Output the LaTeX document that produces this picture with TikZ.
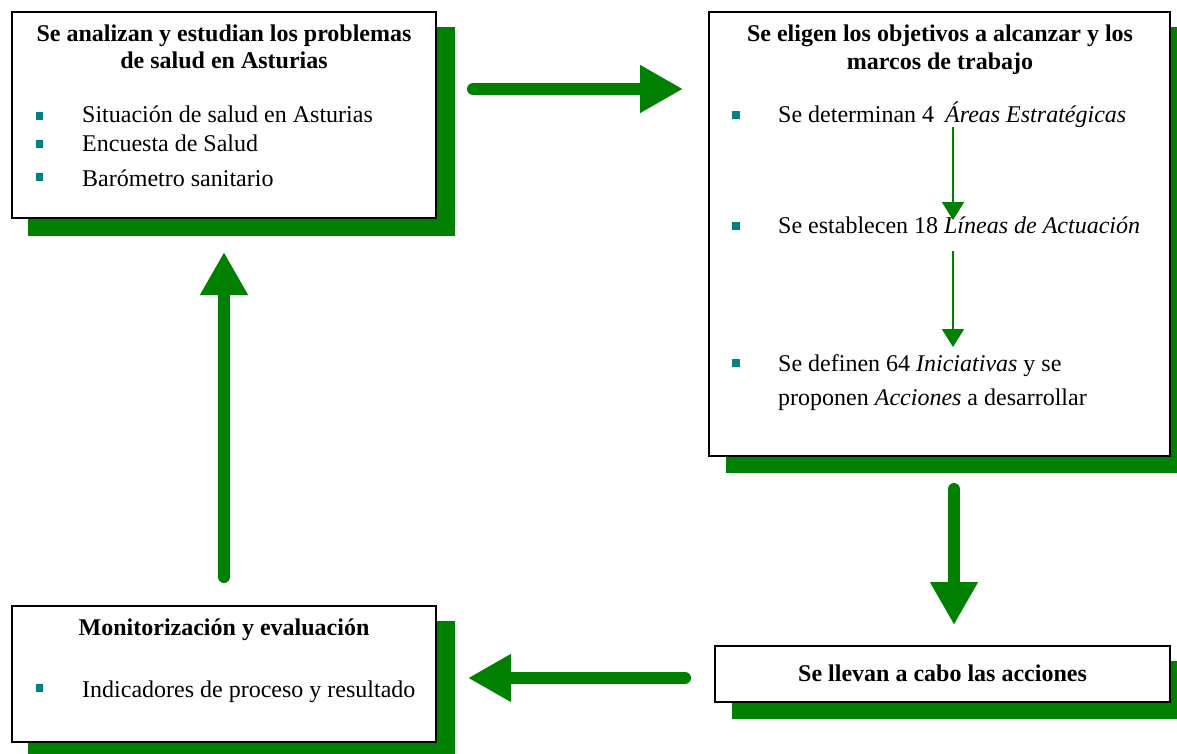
\documentclass[tikz,border=0pt]{standalone}
\usepackage{fontspec}
\setmainfont{Liberation Serif}
\usetikzlibrary{arrows.meta}
\definecolor{shgreen}{RGB}{0,128,0}
\definecolor{bullteal}{RGB}{0,128,128}
\tikzset{
  shadowbox/.style={fill=shgreen, draw=none, inner sep=0pt, outer sep=0pt, anchor=north west},
  mainbox/.style={fill=white, draw=black, line width=1.5pt, inner sep=0pt, outer sep=0pt},
  ttl/.style={font=\fontsize{24}{28}\selectfont\bfseries, anchor=base, inner sep=0pt},
  itm/.style={font=\fontsize{24}{28}\selectfont, anchor=base west, inner sep=0pt},
  bull/.style={fill=bullteal, draw=none, minimum size=7.5pt, inner sep=0pt},
  bigarrow/.style={draw=shgreen, line width=12pt, line cap=round, -{Triangle[width=45pt,length=43pt]}, shgreen},
  smallarrow/.style={draw=shgreen, line width=2pt, -{Triangle[width=22pt,length=18pt]}, shgreen}
}
\begin{document}
\begin{tikzpicture}[x=1pt,y=-1pt]
\useasboundingbox (0,0) rectangle (1177,754);
% shadows
\node[shadowbox, minimum width=427pt, minimum height=209pt] (sA) at (28,27) {};
\node[shadowbox, minimum width=451pt, minimum height=446pt] (sB) at (726,27) {};
\node[shadowbox, minimum width=427pt, minimum height=133pt] (sC) at (28,621) {};
\node[shadowbox, minimum width=445pt, minimum height=58pt] (sD) at (732,661) {};
% boxes
\node[mainbox, minimum width=424pt, minimum height=206pt] (A) at (224,115) {};
\node[mainbox, minimum width=461pt, minimum height=444pt] (B) at (939.5,234) {};
\node[mainbox, minimum width=424pt, minimum height=136pt] (C) at (224,674) {};
\node[mainbox, minimum width=455pt, minimum height=56pt] (D) at (942.5,674) {};
% box A texts
\node[ttl] (At1) at (224,42) {Se analizan y estudian los problemas};
\node[ttl] (At2) at (224,69) {de salud en Asturias};
\node[bull] (Ab1) at (39.5,116) {};
\node[bull] (Ab2) at (39.5,144) {};
\node[bull] (Ab3) at (39.5,177) {};
\node[itm] (Ai1) at (82,123) {Situación de salud en Asturias};
\node[itm] (Ai2) at (82,152) {Encuesta de Salud};
\node[itm] (Ai3) at (82,186) {Barómetro sanitario};
% box B texts
\node[ttl] (Bt1) at (940,42) {Se eligen los objetivos a alcanzar y los};
\node[ttl] (Bt2) at (940,70) {marcos de trabajo};
\node[bull] (Bb1) at (736,115) {};
\node[bull] (Bb2) at (736,226) {};
\node[bull] (Bb3) at (736,363) {};
\node[itm] (Bi1) at (778,123) {Se determinan 4\hspace{11pt}\textit{Áreas Estratégicas}};
\node[itm] (Bi2) at (778,233) {Se establecen 18 \textit{Líneas de Actuación}};
\node[itm] (Bi3) at (778,371) {Se definen 64 \textit{Iniciativas} y se};
\node[itm] (Bi4) at (778,405) {proponen \textit{Acciones} a desarrollar};
% box C texts
\node[ttl] (Ct1) at (224,635) {Monitorización y evaluación};
\node[bull] (Cb1) at (39.5,688) {};
\node[itm] (Ci1) at (82,697) {Indicadores de proceso y resultado};
% box D text
\node[ttl] (Dt1) at (942.5,681) {Se llevan a cabo las acciones};
% inner arrows
\coordinate (s1a) at (953,127);
\coordinate (s1b) at (953,220);
\coordinate (s2a) at (953,251);
\coordinate (s2b) at (953,347);
\draw[smallarrow] (s1a) -- (s1b);
\draw[smallarrow] (s2a) -- (s2b);
% big arrows
\coordinate (rA) at (473,89);
\coordinate (rB) at (683,89);
\draw[bigarrow] (rA) -- (rB);
\coordinate (dB) at (954,489);
\coordinate (dD) at (954,625);
\draw[bigarrow] (dB) -- (dD);
\coordinate (lD) at (685,678);
\coordinate (lC) at (468,678);
\draw[bigarrow] (lD) -- (lC);
\coordinate (uC) at (224,577);
\coordinate (uA) at (224,252);
\draw[bigarrow] (uC) -- (uA);
\end{tikzpicture}
\end{document}
